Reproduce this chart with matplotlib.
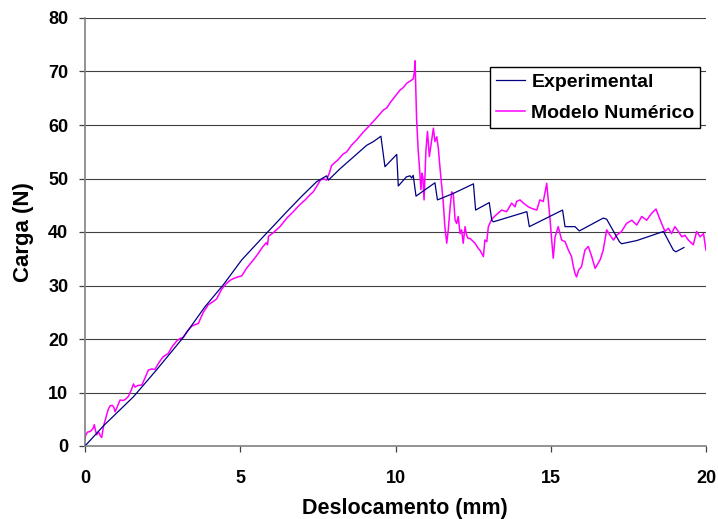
import matplotlib
matplotlib.use("Agg")
import matplotlib.pyplot as plt

# ---------------- data ----------------
exp_x = [0.00, 0.60, 1.56, 2.30, 3.11, 3.86, 4.45, 5.05, 5.69, 6.50, 7.00, 7.46,
         7.78, 7.84, 8.21, 8.70, 9.07, 9.29, 9.53, 9.66, 10.04, 10.09, 10.35, 10.47,
         10.52, 10.57, 10.66, 11.27, 11.35, 11.86, 12.51, 12.58, 13.02, 13.10,
         13.15, 14.23, 14.31, 15.38, 15.46, 15.78, 15.92, 16.69, 16.80, 17.21,
         17.28, 17.77, 18.63, 18.95, 19.03, 19.29]
exp_y = [0.0, 3.8, 9.2, 14.2, 19.9, 26.0, 30.1, 34.8, 38.8, 43.8, 46.8, 49.4,
         50.5, 49.7, 51.8, 54.3, 56.2, 56.9, 57.9, 52.2, 54.5, 48.6, 50.3, 50.5,
         50.1, 50.6, 46.7, 49.2, 46.0, 47.2, 49.0, 44.1, 45.5, 42.2,
         41.9, 43.8, 41.0, 44.1, 41.0, 41.0, 40.2, 42.6, 42.4, 38.2,
         37.8, 38.4, 40.1, 36.6, 36.3, 37.1]

num_x = [0.00, 0.02, 0.08, 0.16, 0.22, 0.27, 0.30, 0.34, 0.38, 0.43, 0.46, 0.50,
         0.54, 0.57, 0.60, 0.66, 0.70, 0.76, 0.81, 0.88, 0.93, 0.97, 1.03, 1.13,
         1.22, 1.30, 1.40, 1.50, 1.56, 1.61, 1.70, 1.83, 1.94, 2.04, 2.15, 2.25,
         2.38, 2.52, 2.60, 2.68, 2.80, 2.95, 3.06, 3.17, 3.30, 3.44, 3.55, 3.65,
         3.81, 3.97, 4.13, 4.24, 4.40, 4.56, 4.68, 4.78, 4.92, 5.05, 5.20, 5.37,
         5.48, 5.58, 5.72, 5.84, 5.88, 5.91, 6.05, 6.28, 6.50, 6.71, 6.90, 7.09,
         7.22, 7.35, 7.46, 7.57, 7.66, 7.78, 7.88, 7.94, 8.05, 8.15, 8.30, 8.43,
         8.58, 8.75, 8.95, 9.18, 9.40, 9.61, 9.72, 9.82, 9.98, 10.14, 10.25, 10.36,
         10.47, 10.57, 10.61, 10.63, 10.65, 10.68, 10.73, 10.77, 10.82, 10.85,
         10.88, 10.92, 10.98, 11.03, 11.09, 11.15, 11.22, 11.27, 11.33, 11.38,
         11.43, 11.49, 11.54, 11.59, 11.65, 11.70, 11.76, 11.81, 11.86, 11.92,
         11.97, 12.02, 12.08, 12.13, 12.18, 12.24, 12.29, 12.34, 12.40, 12.51,
         12.56, 12.67, 12.72, 12.83, 12.88, 12.94, 12.99, 13.10, 13.26, 13.42,
         13.58, 13.74, 13.85, 13.90, 14.01, 14.12, 14.28, 14.39, 14.55, 14.65,
         14.76, 14.87, 14.92, 14.98, 15.03, 15.08, 15.14, 15.24, 15.35, 15.46,
         15.57, 15.67, 15.73, 15.78, 15.83, 15.90, 15.99, 16.10, 16.21, 16.32,
         16.43, 16.59, 16.69, 16.80, 16.91, 17.02, 17.12, 17.28, 17.44, 17.61,
         17.77, 17.93, 18.09, 18.25, 18.39, 18.46, 18.57, 18.68, 18.79, 18.89,
         19.00, 19.11, 19.22, 19.32, 19.43, 19.59, 19.70, 19.81, 19.92, 20.00]
num_y = [1.2, 2.0, 2.6, 2.7, 3.0, 3.4, 4.0, 2.8, 2.1, 2.6, 2.4, 1.8,
         1.6, 2.8, 3.8, 5.0, 5.9, 7.0, 7.5, 7.6, 7.2, 6.4, 7.2, 8.6,
         8.5, 8.7, 9.3, 10.6, 11.6, 11.0, 11.3, 11.4, 12.8, 14.2, 14.4, 14.3,
         15.6, 16.7, 17.0, 17.3, 18.5, 19.6, 20.1, 20.3, 21.5, 22.4, 22.7, 22.9,
         25.0, 26.4, 27.0, 27.5, 29.3, 30.4, 31.0, 31.3, 31.6, 31.8, 33.2, 34.4,
         35.2, 36.0, 37.2, 38.0, 37.6, 39.2, 39.8, 41.0, 42.6, 43.8, 45.0, 46.0,
         46.8, 47.5, 48.5, 49.6, 50.0, 49.7, 51.2, 52.4, 53.0, 53.5, 54.5, 55.0,
         56.2, 57.2, 58.6, 60.0, 61.4, 62.8, 63.2, 64.1, 65.3, 66.5, 67.0, 67.8,
         68.2, 68.6, 70.0, 72.0, 67.8, 61.0, 55.3, 52.2, 47.9, 51.0,
         50.3, 46.0, 55.3, 58.8, 54.1, 56.5, 59.4, 56.9, 57.8, 55.6,
         52.2, 48.5, 45.4, 41.0, 37.9, 40.4, 44.7, 47.5, 47.2, 42.2,
         41.6, 42.9, 39.7, 40.4, 37.9, 41.0, 39.4, 38.8, 38.8, 38.2,
         37.9, 36.9, 36.6, 35.4, 38.5, 38.2, 41.0, 42.4, 43.3, 44.1,
         43.8, 45.4, 44.7, 45.7, 46.0, 45.4, 44.7, 44.4, 44.1, 46.0,
         45.7, 49.1, 46.0, 42.2, 38.5, 35.1, 39.1, 41.0, 38.5, 38.2,
         36.6, 35.4, 33.5, 32.3, 31.6, 32.9, 33.5, 36.6, 37.3, 35.4,
         33.2, 34.8, 36.6, 40.4, 39.4, 38.5, 39.4, 40.1, 41.6, 42.2,
         41.3, 42.9, 42.2, 43.5, 44.3, 43.2, 41.6, 40.1, 40.7, 39.7,
         41.0, 40.1, 39.1, 39.4, 38.5, 37.6, 40.1, 39.1, 39.7, 36.6]

series_labels = ["Experimental", "Modelo Numérico"]
x_ticks = [0, 5, 10, 15, 20]
y_ticks = [0, 10, 20, 30, 40, 50, 60, 70, 80]
x_label = "Deslocamento (mm)"
y_label = "Carga (N)"

# ---------------- figure ----------------
plt.rcParams['font.family'] = ['Liberation Sans', 'DejaVu Sans']
fig = plt.figure(figsize=(7.18, 5.19), dpi=100)
ax = fig.add_axes([85/718, 1-446/519, 621/718, 428/519])

ax.set_xlim(0, 20)
ax.set_ylim(0, 80)
ax.set_xticks(x_ticks)
ax.set_yticks(y_ticks)

for v in y_ticks[1:]:
    ax.axhline(v, color='#404040', lw=0.8, zorder=1)

ax.plot(exp_x, exp_y, color='#000080', lw=0.9, label=series_labels[0], zorder=3)
ax.plot(num_x, num_y, color='#FF00FF', lw=1.1, label=series_labels[1], zorder=2)

for s in ['top', 'right']:
    ax.spines[s].set_visible(False)
for s in ['left', 'bottom']:
    ax.spines[s].set_color('#808080')
    ax.spines[s].set_linewidth(1.2)
ax.spines['bottom'].set_zorder(4)

ax.tick_params(axis='x', direction='out', length=4.5, width=0.9, color='#404040',
               pad=12.5, labelsize=13)
ax.tick_params(axis='y', direction='out', length=4.5, width=0.9, color='#404040',
               pad=7.5, labelsize=13)
for lab in ax.get_xticklabels() + ax.get_yticklabels():
    lab.set_fontweight('bold')

ax.set_xlabel(x_label, fontsize=15.5, fontweight='bold', va='baseline')
ax.xaxis.set_label_coords((405-85)/621, (446-514)/428)
ax.set_ylabel(y_label, fontsize=16, fontweight='bold', va='center')
ax.yaxis.set_label_coords((23-85)/621, 0.5)

leg = ax.legend(loc='upper right', bbox_to_anchor=(0.991, 0.885), borderaxespad=0,
                fancybox=False, framealpha=1, edgecolor='black',
                prop={'weight': 'bold', 'size': 14}, handlelength=1.5,
                handletextpad=0.3, borderpad=0.3, labelspacing=0.7)
leg.get_frame().set_linewidth(1.0)
leg.set_zorder(5)

fig.savefig('out.png', dpi=100)
